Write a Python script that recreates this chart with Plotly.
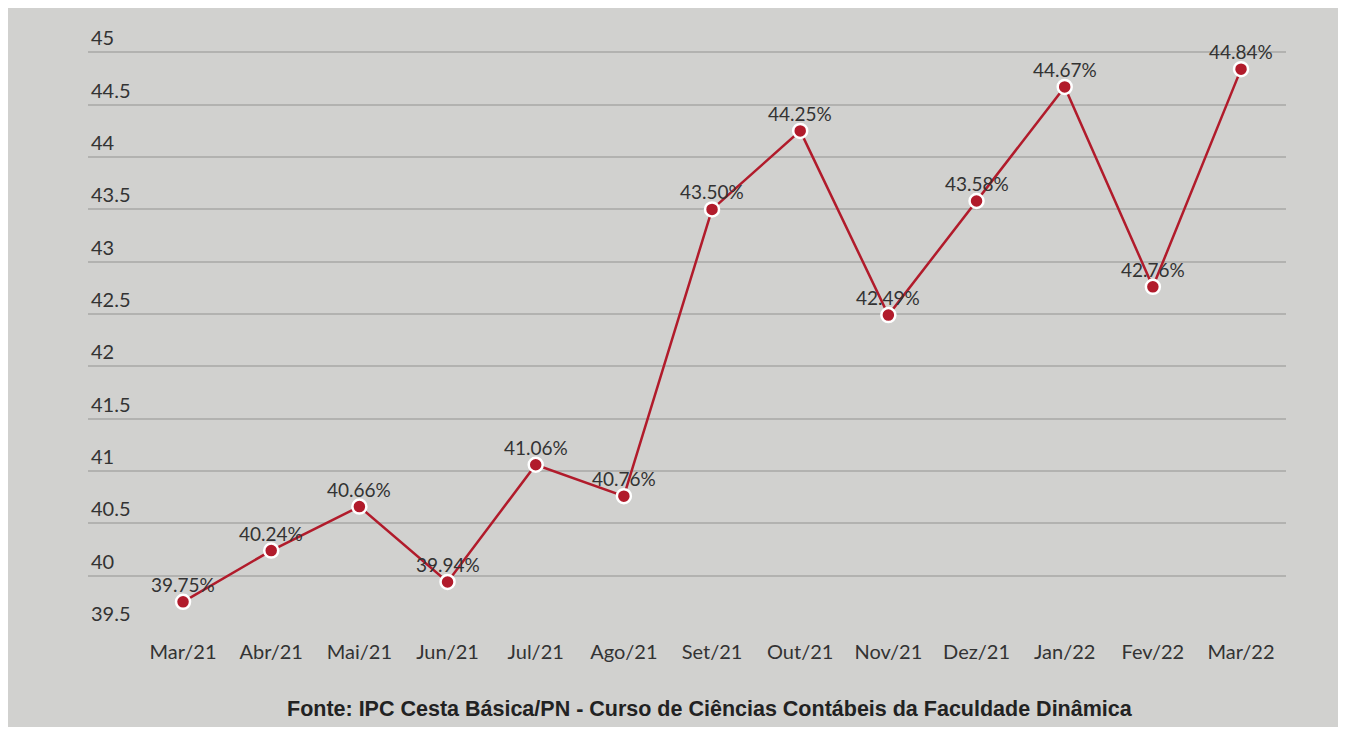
import plotly.graph_objects as go

months = ["Mar/21", "Abr/21", "Mai/21", "Jun/21", "Jul/21", "Ago/21", "Set/21",
          "Out/21", "Nov/21", "Dez/21", "Jan/22", "Fev/22", "Mar/22"]
values = [39.75, 40.24, 40.66, 39.94, 41.06, 40.76, 43.50,
          44.25, 42.49, 43.58, 44.67, 42.76, 44.84]
y_ticks = [39.5, 40, 40.5, 41, 41.5, 42, 42.5, 43, 43.5, 44, 44.5, 45]
y_tick_text = ["39.5", "40", "40.5", "41", "41.5", "42", "42.5", "43", "43.5", "44", "44.5", "45"]
source = "Fonte: IPC Cesta Básica/PN - Curso de Ciências Contábeis da Faculdade Dinâmica"

BG = "#d1d1cf"
RED = "#b11b2b"
FONT = "Lato"
xs = list(range(len(months)))

fig = go.Figure()
fig.add_trace(go.Scatter(
    x=xs, y=values,
    mode="lines+markers",
    line=dict(color=RED, width=2.5),
    marker=dict(color=RED, size=14, line=dict(color="white", width=2.5)),
    cliponaxis=False,
    hoverinfo="skip",
))

annotations = [dict(
    x=x, y=v, xref="x", yref="y", text=f"{v:.2f}%",
    showarrow=False, xanchor="center", yanchor="bottom", yshift=4,
    font=dict(family=FONT, size=19, color="#333333"),
) for x, v in zip(xs, values)]

annotations.append(dict(
    text=f"<b>{source}</b>", xref="paper", yref="paper",
    x=0.519, y=-0.134, xanchor="center", yanchor="middle",
    showarrow=False,
    font=dict(family="Liberation Sans", size=21.5, color="#222222"),
))

fig.update_layout(
    width=1338, height=719,
    paper_bgcolor=BG, plot_bgcolor=BG,
    margin=dict(l=80, r=60, t=13, b=99),
    showlegend=False,
    font=dict(family=FONT, color="#333333"),
    xaxis=dict(
        range=[-1.078, 12.51],
        tickmode="array", tickvals=xs, ticktext=months,
        showgrid=False, zeroline=False, showline=False,
        ticks="outside", ticklen=6, tickcolor="rgba(0,0,0,0)",
        tickfont=dict(family=FONT, size=20, color="#333333"),
    ),
    yaxis=dict(
        range=[39.5, 45.3],
        tickmode="array", tickvals=y_ticks, ticktext=y_tick_text,
        ticklabelposition="inside top",
        showgrid=True, gridcolor="#b2b2b0", gridwidth=1.5,
        zeroline=False, showline=False,
        tickfont=dict(family=FONT, size=20, color="#333333"),
    ),
    annotations=annotations,
)

fig.write_html("out.html")
